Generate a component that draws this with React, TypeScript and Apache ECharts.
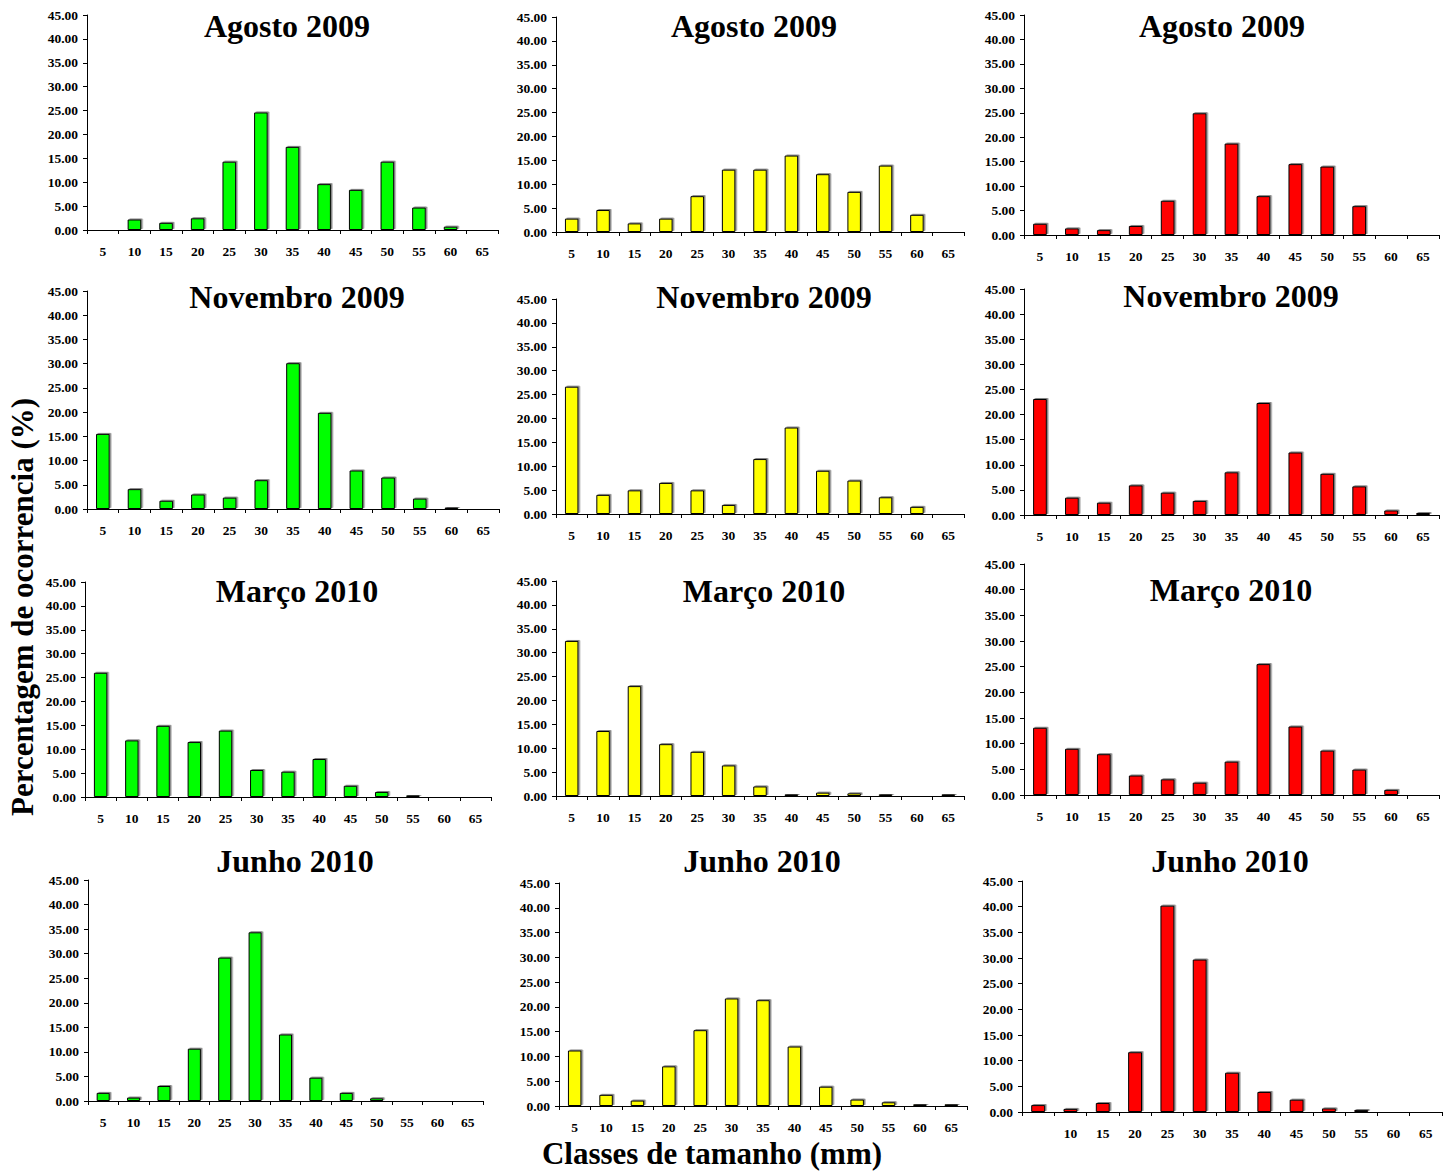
import React, { useEffect, useRef } from "react";
import * as echarts from "echarts";

// ---------- data ----------
const categories = ["5", "10", "15", "20", "25", "30", "35", "40", "45", "50", "55", "60", "65"];
const yTicks = [0, 5, 10, 15, 20, 25, 30, 35, 40, 45];
const monthTitles = ["Agosto 2009", "Novembro 2009", "Março 2010", "Junho 2010"];
const yAxisTitle = "Percentagem de ocorrencia (%)";
const xAxisTitle = "Classes de tamanho (mm)";

// green column
const greenAgo2009 = [0, 2.2, 1.5, 2.45, 14.3, 24.6, 17.4, 9.6, 8.4, 14.3, 4.7, 0.7, 0];
const greenNov2009 = [15.5, 4.1, 1.7, 3.0, 2.35, 5.95, 30.1, 19.85, 7.95, 6.5, 2.15, 0.3, 0];
const greenMar2010 = [26.0, 11.85, 14.9, 11.5, 13.9, 5.65, 5.3, 7.95, 2.35, 1.05, 0.35, 0.2, 0];
const greenJun2010 = [1.65, 0.7, 3.05, 10.65, 29.2, 34.35, 13.55, 4.75, 1.65, 0.55, 0, 0, 0];
// yellow column
const yellowAgo2009 = [2.8, 4.6, 1.8, 2.8, 7.5, 13.05, 13.05, 16.0, 12.1, 8.4, 13.9, 3.6, 0];
const yellowNov2009 = [26.65, 4.0, 4.95, 6.5, 4.95, 1.9, 11.5, 18.1, 9.05, 7.0, 3.5, 1.5, 0];
const yellowMar2010 = [32.45, 13.6, 23.0, 10.85, 9.25, 6.4, 2.0, 0.35, 0.7, 0.55, 0.35, 0.2, 0.35];
const yellowJun2010 = [11.2, 2.25, 1.1, 8.0, 15.3, 21.7, 21.35, 12.0, 3.9, 1.3, 0.75, 0.35, 0.35];
// red column
const redAgo2009 = [2.3, 1.35, 1.0, 1.85, 7.0, 24.9, 18.7, 7.95, 14.5, 14.0, 5.9, 0, 0];
const redNov2009 = [23.1, 3.45, 2.45, 5.9, 4.45, 2.8, 8.5, 22.3, 12.45, 8.2, 5.7, 0.9, 0.4];
const redMar2010 = [13.1, 9.0, 7.95, 3.8, 3.05, 2.4, 6.5, 25.5, 13.35, 8.65, 4.95, 1.0, 0];
const redJun2010 = [1.35, 0.6, 1.75, 11.65, 40.2, 29.7, 7.65, 3.9, 2.4, 0.7, 0.4, 0, 0];

// ---------- layout / style ----------
const FONT = "'Liberation Serif', 'Times New Roman', serif";
const colColors = ["#00FF00", "#FFFF00", "#FF0000"];

type Panel = {
  data: number[];
  color: string;
  title: string;
  box: [number, number, number, number]; // left, top, right, bottom (axis lines)
  titlePos: [number, number];
  hideFirstLabel?: boolean;
};

const panels: Panel[] = [
  { data: greenAgo2009, color: colColors[0], title: monthTitles[0], box: [87, 15, 498, 230], titlePos: [287, 25.5] },
  { data: yellowAgo2009, color: colColors[1], title: monthTitles[0], box: [556, 17, 964, 232], titlePos: [754, 25.5] },
  { data: redAgo2009, color: colColors[2], title: monthTitles[0], box: [1024, 15, 1439, 235], titlePos: [1222, 25.5] },
  { data: greenNov2009, color: colColors[0], title: monthTitles[1], box: [87, 291, 499, 509], titlePos: [297, 296.5] },
  { data: yellowNov2009, color: colColors[1], title: monthTitles[1], box: [556, 299, 964, 514], titlePos: [764, 296.5] },
  { data: redNov2009, color: colColors[2], title: monthTitles[1], box: [1024, 289, 1439, 515], titlePos: [1231, 296] },
  { data: greenMar2010, color: colColors[0], title: monthTitles[2], box: [85, 582, 491, 797], titlePos: [297, 590.5] },
  { data: yellowMar2010, color: colColors[1], title: monthTitles[2], box: [556, 581, 964, 796], titlePos: [764, 590.5] },
  { data: redMar2010, color: colColors[2], title: monthTitles[2], box: [1024, 564, 1439, 795], titlePos: [1231, 590] },
  { data: greenJun2010, color: colColors[0], title: monthTitles[3], box: [88, 880, 483, 1101], titlePos: [295, 861] },
  { data: yellowJun2010, color: colColors[1], title: monthTitles[3], box: [559, 883, 967, 1106], titlePos: [762, 861] },
  { data: redJun2010, color: colColors[2], title: monthTitles[3], box: [1022, 881, 1442, 1112], titlePos: [1230, 861], hideFirstLabel: true },
];

const W = 1453;
const H = 1172;

export default function App() {
  const ref = useRef<HTMLDivElement>(null);

  useEffect(() => {
    document.body.style.margin = "0";
    if (!ref.current) return;
    const chart = echarts.init(ref.current, undefined, { renderer: "svg", width: W, height: H });

    const grid: any[] = [];
    const xAxis: any[] = [];
    const yAxis: any[] = [];
    const series: any[] = [];
    const graphic: any[] = [];

    panels.forEach((p, i) => {
      const [l, t, r, b] = p.box;
      grid.push({ left: l, top: t, width: r - l, height: b - t, containLabel: false });
      xAxis.push({
        type: "category",
        gridIndex: i,
        data: categories,
        boundaryGap: true,
        axisLine: { show: true, lineStyle: { color: "#000", width: 1 } },
        axisTick: { show: true, interval: 0, length: 4, alignWithLabel: false, lineStyle: { color: "#000" } },
        axisLabel: {
          interval: 0,
          margin: 14,
          color: "#000",
          fontFamily: FONT,
          fontWeight: "bold",
          fontSize: 13.5,
          formatter: (v: string, idx: number) => (p.hideFirstLabel && idx === 0 ? "" : v),
        },
        splitLine: { show: false },
      });
      yAxis.push({
        type: "value",
        gridIndex: i,
        min: yTicks[0],
        max: yTicks[yTicks.length - 1],
        interval: 5,
        axisLine: { show: true, lineStyle: { color: "#000", width: 1 } },
        axisTick: { show: true, length: 4, lineStyle: { color: "#000" } },
        axisLabel: {
          margin: 9,
          color: "#000",
          fontFamily: FONT,
          fontWeight: "bold",
          fontSize: 13.5,
          formatter: (v: number) => v.toFixed(2),
        },
        splitLine: { show: false },
      });
      series.push({
        type: "bar",
        xAxisIndex: i,
        yAxisIndex: i,
        data: p.data,
        barWidth: "43%",
        itemStyle: {
          color: p.color,
          borderColor: "#000",
          borderWidth: 1,
          shadowColor: "rgba(90,90,90,0.75)",
          shadowOffsetX: 1.5,
          shadowOffsetY: -1,
          shadowBlur: 0,
        },
      });
      graphic.push({
        type: "text",
        x: p.titlePos[0],
        y: p.titlePos[1],
        style: {
          text: p.title,
          fontFamily: FONT,
          fontWeight: "bold",
          fontSize: 32,
          fill: "#000",
          align: "center",
          verticalAlign: "middle",
        },
      });
    });

    graphic.push({
      type: "text",
      x: 22,
      y: 607,
      rotation: Math.PI / 2,
      style: {
        text: yAxisTitle,
        fontFamily: FONT,
        fontWeight: "bold",
        fontSize: 31,
        fill: "#000",
        align: "center",
        verticalAlign: "middle",
      },
    });
    graphic.push({
      type: "text",
      x: 712,
      y: 1153,
      style: {
        text: xAxisTitle,
        fontFamily: FONT,
        fontWeight: "bold",
        fontSize: 31,
        fill: "#000",
        align: "center",
        verticalAlign: "middle",
      },
    });

    chart.setOption({
      animation: false,
      backgroundColor: "#fff",
      grid,
      xAxis,
      yAxis,
      series,
      graphic,
    });

    return () => {
      chart.dispose();
    };
  }, []);

  return <div ref={ref} style={{ width: W, height: H }} />;
}
